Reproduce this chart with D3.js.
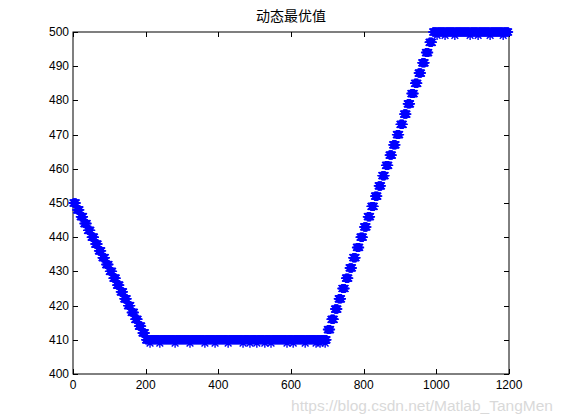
<!DOCTYPE html>
<html lang="zh">
<head>
    <meta charset="UTF-8">
    <title>动态最优值</title>
    <script src="https://d3js.org/d3.v7.min.js"></script>
    <style>
        body { margin: 0; background: #fff; }
        svg text { font-family: "Liberation Sans", Arial, sans-serif; }
    </style>
</head>
<body>
    <div id="chart"></div>

    <script>
        // one level per block of 10 generations
        const levels = [
            450, 448, 446, 444, 442, 440, 438, 436, 434, 432,
            430, 428, 426, 424, 422, 420, 418, 416, 414, 412,
            410, 410, 410, 410, 410, 410, 410, 410, 410, 410,
            410, 410, 410, 410, 410, 410, 410, 410, 410, 410,
            410, 410, 410, 410, 410, 410, 410, 410, 410, 410,
            410, 410, 410, 410, 410, 410, 410, 410, 410, 410,
            410, 410, 410, 410, 410, 410, 410, 410, 410, 410,
            413, 416, 419, 422, 425, 428, 431, 434, 437, 440,
            443, 446, 449, 452, 455, 458, 461, 464, 467, 470,
            473, 476, 479, 482, 485, 488, 491, 494, 497, 500,
            500, 500, 500, 500, 500, 500, 500, 500, 500, 500,
            500, 500, 500, 500, 500, 500, 500, 500, 500, 500
        ];
        // generations where the value sits a little below the plateau
        const lowDips = [212, 239, 281, 322, 363, 391, 427, 468, 487, 506, 528, 545, 589, 606, 639, 669, 680, 694];
        const highDips = [1002, 1024, 1051, 1093, 1115, 1148, 1184];
        const xTicks = [0, 200, 400, 600, 800, 1000, 1200];
        const yTicks = [400, 410, 420, 430, 440, 450, 460, 470, 480, 490, 500];

        const data = [];
        levels.forEach((v, b) => {
            for (let i = 0; i < 10; i++) {
                const g = b * 10 + i;
                let y = v;
                if (lowDips.includes(g)) y = 409;
                if (highDips.includes(g)) y = 499;
                data.push({ g: g, y: y });
            }
        });

        const width = 561, height = 420;
        const m = { left: 73, right: 52, top: 32, bottom: 46 };

        const svg = d3.select("#chart").append("svg")
            .attr("width", width)
            .attr("height", height);

        const x = d3.scaleLinear().domain([0, 1200]).range([m.left, width - m.right]);
        const y = d3.scaleLinear().domain([400, 500]).range([height - m.bottom, m.top]);

        // axes box
        svg.append("rect")
            .attr("x", x(0)).attr("y", y(500))
            .attr("width", x(1200) - x(0)).attr("height", y(400) - y(500))
            .attr("fill", "#fff").attr("stroke", "#000").attr("stroke-width", 1);

        const tickLen = 5;
        const g = svg.append("g").attr("stroke", "#000").attr("stroke-width", 1);
        xTicks.forEach(t => {
            const px = Math.round(x(t)) + 0.5;
            g.append("line").attr("x1", px).attr("x2", px).attr("y1", y(400)).attr("y2", y(400) - tickLen);
            g.append("line").attr("x1", px).attr("x2", px).attr("y1", y(500)).attr("y2", y(500) + tickLen);
        });
        yTicks.forEach(t => {
            const py = Math.round(y(t)) + 0.5;
            g.append("line").attr("x1", x(0)).attr("x2", x(0) + tickLen).attr("y1", py).attr("y2", py);
            g.append("line").attr("x1", x(1200)).attr("x2", x(1200) - tickLen).attr("y1", py).attr("y2", py);
        });

        svg.append("g").selectAll("text").data(xTicks).enter().append("text")
            .attr("x", d => x(d)).attr("y", y(400) + 15)
            .attr("text-anchor", "middle").attr("font-size", 12)
            .text(d => d);
        svg.append("g").selectAll("text").data(yTicks).enter().append("text")
            .attr("x", x(0) - 4).attr("y", d => y(d) + 4)
            .attr("text-anchor", "end").attr("font-size", 12)
            .text(d => d);

        // asterisk markers
        const s = 4.5;
        const d7 = s * 0.75;
        const star = `M${-s},0H${s}M0,${-s}V${s}M${-d7},${-d7}L${d7},${d7}M${-d7},${d7}L${d7},${-d7}`;
        svg.append("g").selectAll("path").data(data).enter().append("path")
            .attr("d", star)
            .attr("transform", d => `translate(${x(d.g)},${y(d.y)})`)
            .attr("fill", "none")
            .attr("stroke", "#0000ff")
            .attr("stroke-width", 1.4);

        svg.append("text")
            .attr("x", (x(0) + x(1200)) / 2).attr("y", 21)
            .attr("text-anchor", "middle").attr("font-size", 14)
            .style("font-family", "'Noto Sans CJK SC', sans-serif")
            .text("动态最优值");

        // watermark
        svg.append("text")
            .attr("x", 553).attr("y", 411)
            .attr("text-anchor", "end").attr("font-size", 15.5)
            .attr("fill", "#d9d9d9")
            .text("https://blog.csdn.net/Matlab_TangMen");
    </script>
</body>
</html>
